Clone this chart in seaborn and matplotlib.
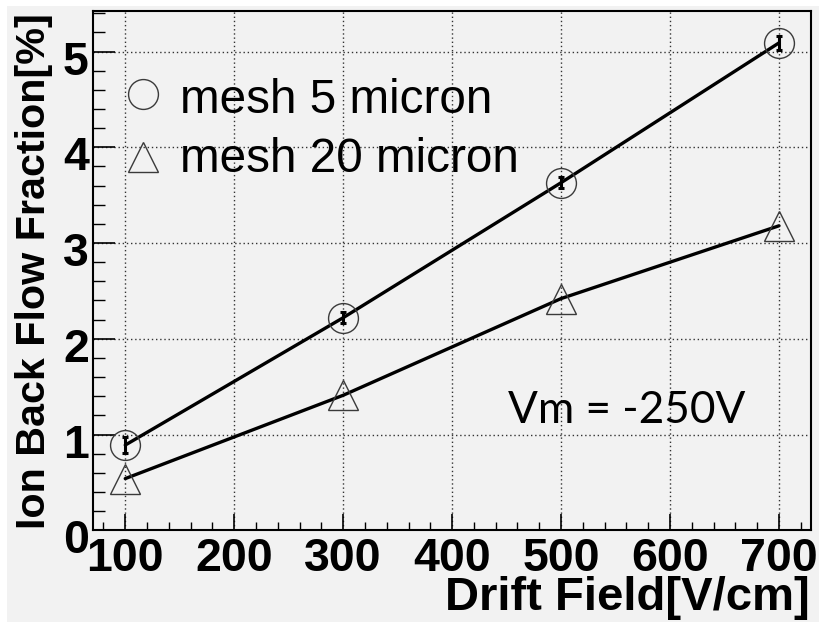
import matplotlib
matplotlib.use("Agg")
import matplotlib.pyplot as plt
import matplotlib.transforms as mtransforms
from matplotlib.patches import Rectangle
from matplotlib.ticker import MultipleLocator
import numpy as np
import pandas as pd
import seaborn as sns

# Measured ion back flow vs. drift field for two mesh pitches
drift_field = [100, 300, 500, 700]
ibf_mesh5 = [0.89, 2.22, 3.63, 5.09]
err_mesh5 = [0.08, 0.06, 0.06, 0.07]
ibf_mesh20 = [0.54, 1.41, 2.42, 3.18]
series_names = ["mesh 5 micron", "mesh 20 micron"]
x_ticks = [100, 200, 300, 400, 500, 600, 700]
y_ticks = [0, 1, 2, 3, 4, 5]
annotation = "Vm = -250V"

df = pd.DataFrame({
    "field": drift_field * 2,
    "ibf": ibf_mesh5 + ibf_mesh20,
    "mesh": [series_names[0]] * len(drift_field) + [series_names[1]] * len(drift_field),
})

sns.set_theme(style="ticks")
plt.rcParams["font.family"] = ["Liberation Sans", "DejaVu Sans"]
plt.rcParams["text.color"] = "black"
plt.rcParams["xtick.color"] = "black"
plt.rcParams["ytick.color"] = "black"
plt.rcParams["xtick.labelcolor"] = "black"
plt.rcParams["ytick.labelcolor"] = "black"

BG = "#f2f2f2"
W, H = 819, 622
fig = plt.figure(figsize=(W / 100, H / 100), dpi=100, facecolor="white")
fig.patches.append(Rectangle((7 / W, 0), 1, 616 / H, transform=fig.transFigure,
                             facecolor=BG, edgecolor="none", zorder=-10))
ax = fig.add_axes([93 / W, 1 - 530.3 / H, 718 / W, 519 / H])
ax.set_facecolor(BG)

markers = {series_names[0]: "o", series_names[1]: "^"}
sns.lineplot(data=df, x="field", y="ibf", style="mesh", markers=markers,
             dashes=False, color="black", lw=2.4, ms=21.5, mfc="none",
             mec="#3a3a3a", mew=1.0, legend=False, sort=False,
             errorbar=None, ax=ax, zorder=3)
ax.errorbar(drift_field, ibf_mesh5, yerr=err_mesh5, fmt="none", ecolor="black",
            elinewidth=2.2, capsize=2.5, capthick=2.2, zorder=4)

ax.set_xlim(70.4, 729.4)
ax.set_ylim(0, 5.42)
ax.set_xticks(x_ticks)
ax.set_yticks(y_ticks)
ax.xaxis.set_minor_locator(MultipleLocator(20))
ax.yaxis.set_minor_locator(MultipleLocator(0.2))
ax.set_xticklabels([str(v) for v in x_ticks], fontsize=33.5, fontweight="bold")
ax.set_yticklabels([str(v) for v in y_ticks], fontsize=33.5, fontweight="bold")
ax.set_xlabel("")
ax.set_ylabel("")

ax.tick_params(axis="x", which="major", direction="in", length=11.5, width=1.2,
               pad=5, color="black", labelcolor="black")
ax.tick_params(axis="x", which="minor", direction="in", length=5.8, width=1.0,
               color="black")
ax.tick_params(axis="y", which="major", direction="in", length=16, width=1.2,
               pad=3, color="black", labelcolor="black")
ax.tick_params(axis="y", which="minor", direction="in", length=8.6, width=1.0,
               color="black")
shift = mtransforms.ScaledTranslation(0, -6 / 100, fig.dpi_scale_trans)
for lab in ax.get_yticklabels():
    lab.set_transform(lab.get_transform() + shift)

ax.grid(True, which="major", linestyle=(0, (1, 2)), color="#333333", linewidth=1.0)
ax.set_axisbelow(True)
for sp in ax.spines.values():
    sp.set_color("black")
    sp.set_linewidth(1.5)

# Axis titles, right-aligned at the ends of the axes
fig.text(810 / W, 1 - 610 / H, "Drift Field[V/cm]", ha="right", va="baseline",
         fontsize=34, fontweight="bold", color="black")
fig.text(45 / W, 1 - 13 / H, "Ion Back Flow Fraction[%]", rotation=90,
         rotation_mode="anchor", ha="right", va="baseline", fontsize=29.7,
         fontweight="bold", color="black")

# Key
ax.plot([0.0696], [0.8407], marker="o", ms=21.5, mfc="none", mec="#3a3a3a",
        mew=1.0, transform=ax.transAxes, clip_on=False)
ax.plot([0.0696], [0.7193], marker="^", ms=21.5, mfc="none", mec="#3a3a3a",
        mew=1.0, transform=ax.transAxes, clip_on=False)
ax.text(0.121, 0.804, series_names[0], transform=ax.transAxes, fontsize=34.3,
        va="baseline", ha="left", color="black")
ax.text(0.121, 0.6904, series_names[1], transform=ax.transAxes, fontsize=34.3,
        va="baseline", ha="left", color="black")

ax.text(0.578, 0.207, annotation, transform=ax.transAxes, fontsize=31.8,
        family=["Lato", "DejaVu Sans"], va="baseline", ha="left", color="black")

fig.savefig("out.png", dpi=100, facecolor=fig.get_facecolor())
